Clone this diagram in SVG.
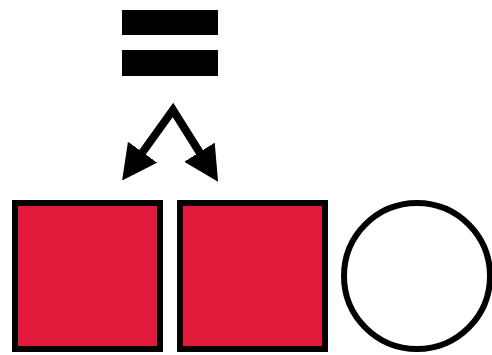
<svg xmlns="http://www.w3.org/2000/svg" width="492" height="355" viewBox="0 0 492 355">
  <style>
    .bar { fill: #000; }
    .sq { fill: #e21b3c; stroke: #000; stroke-width: 6; }
    .circ { fill: #fff; stroke: #000; stroke-width: 6; }
    .conn { fill: none; stroke: #000; stroke-width: 8; stroke-linejoin: miter; }
  </style>
  <defs>
    <marker id="head" viewBox="0 0 35 36" refX="1" refY="18" markerWidth="35" markerHeight="36" markerUnits="userSpaceOnUse" orient="auto-start-reverse">
      <path d="M0,0 L35,18 L0,36 z" fill="#000"/>
    </marker>
  </defs>
  <rect width="492" height="355" fill="#fff"/>
  <g id="equals">
    <rect class="bar" x="122" y="10" width="96" height="25"/>
    <rect class="bar" x="122" y="50" width="96" height="26"/>
  </g>
  <g id="connectors">
    <path class="conn" d="M142,153 L173,110 L200,153" marker-start="url(#head)" marker-end="url(#head)"/>
  </g>
  <g id="square1">
    <rect class="sq" x="15" y="203" width="145" height="146"/>
  </g>
  <g id="square2">
    <rect class="sq" x="180" y="203" width="145" height="146"/>
  </g>
  <g id="circle">
    <circle class="circ" cx="417" cy="276" r="73"/>
  </g>
</svg>
